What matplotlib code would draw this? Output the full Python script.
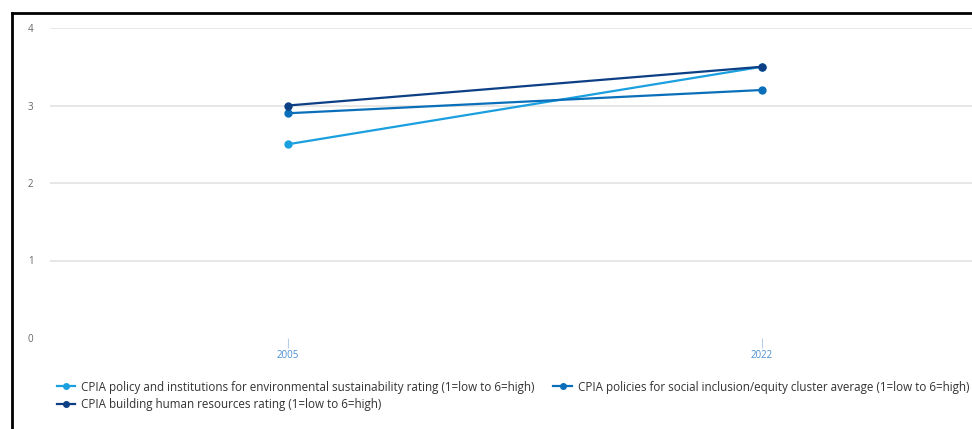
import matplotlib
matplotlib.use("Agg")
import matplotlib.pyplot as plt
from matplotlib.lines import Line2D

# Data
years = [2005, 2022]
env_sustainability = [2.5, 3.5]
social_inclusion = [2.9, 3.2]
human_resources = [3.0, 3.5]
labels = [
    "CPIA policy and institutions for environmental sustainability rating (1=low to 6=high)",
    "CPIA policies for social inclusion/equity cluster average (1=low to 6=high)",
    "CPIA building human resources rating (1=low to 6=high)",
]
colors = ["#1a9fdf", "#0a6fba", "#0d3f85"]
y_ticks = [0, 1, 2, 3, 4]

plt.rcParams["font.family"] = ["Open Sans", "DejaVu Sans"]

W, H = 972, 429
fig = plt.figure(figsize=(W / 100, H / 100), dpi=100)

# Axes: left at x=50, right at figure edge; y=4 at 28px, y=0 at 338px
left = 50 / W
right = 1.0
top = 1 - 28 / H
bottom = 1 - 338 / H
ax = fig.add_axes([left, bottom, right - left, top - bottom])

series = [env_sustainability, social_inclusion, human_resources]
handles = []
for vals, c in zip(series, colors):
    (h,) = ax.plot(years, vals, color=c, lw=1.6, marker="o", ms=5,
                   solid_capstyle="round", zorder=3, clip_on=False)
    handles.append(h)

# x range: 2005 at 288px, 2022 at 762px
px_per_year = (762 - 288) / 17
x0 = 2005 - (288 - 50) / px_per_year
x1 = 2005 + (W - 288) / px_per_year
ax.set_xlim(x0, x1)
ax.set_ylim(0, 4)

ax.set_yticks(y_ticks)
ax.set_yticklabels([str(t) for t in y_ticks])
ax.yaxis.grid(True, color="#e3e3e3", lw=1.2)
ax.set_axisbelow(True)
ax.tick_params(axis="y", length=0, pad=12, labelsize=7, labelcolor="#666666")
for lbl in ax.get_yticklabels():
    lbl.set_horizontalalignment("right")

ax.set_xticks(years)
ax.set_xticklabels([str(y) for y in years])
ax.tick_params(axis="x", length=7, width=0.8, color="#b8cde6", pad=2,
               labelsize=7, labelcolor="#4a8fd4", direction="out")

for s in ax.spines.values():
    s.set_visible(False)

# Hide the gridline at 0
ax.get_ygridlines()[0].set_visible(False)

# Legend: row 1 = environment, social inclusion; row 2 = human resources
leg_handles = [Line2D([], [], color=h.get_color(), lw=1.6, marker="o", ms=4)
               for h in handles]
order = [0, 2, 1]
fig.legend([leg_handles[i] for i in order], [labels[i] for i in order],
           ncol=2, loc="upper left",
           bbox_to_anchor=(46 / W, 1 - 370 / H), frameon=False,
           fontsize=8.4, handlelength=1.6, handletextpad=0.5,
           columnspacing=1.6, labelspacing=0.35, labelcolor="#333333")

# Frame around the panel
fig.add_artist(Line2D([12 / W, 12 / W], [0, 1 - 12.5 / H], color="black",
                      lw=2, transform=fig.transFigure))
fig.add_artist(Line2D([12 / W, 1.0], [1 - 12.5 / H, 1 - 12.5 / H], color="black",
                      lw=2, transform=fig.transFigure))

fig.savefig("out.png", dpi=100)
